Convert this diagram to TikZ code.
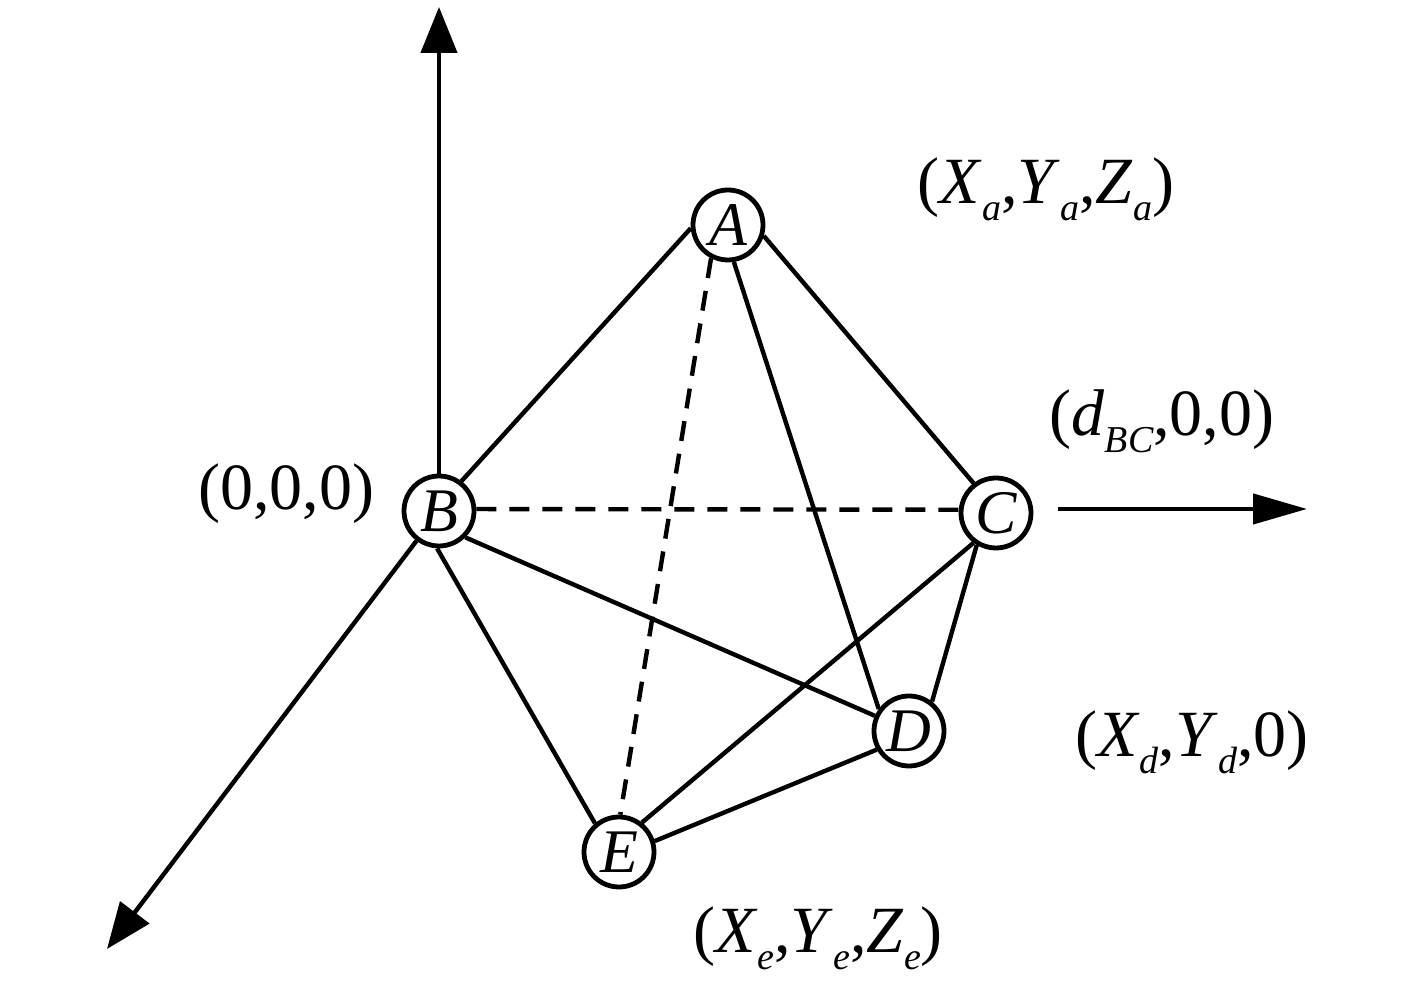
\documentclass[tikz,border=0pt]{standalone}
\usepackage{fontspec}
\setmainfont{Liberation Serif}
\usepackage{tikz}
\usetikzlibrary{arrows.meta}
\newcommand{\lowidx}[1]{\raisebox{-0.26em}{\fontsize{38}{38}\selectfont\itshape #1}}

\begin{document}
\begin{tikzpicture}[x=1pt,y=1pt]
  \tikzset{vertex/.style = {shape=circle,draw,line width=4.8pt,minimum size=70pt,inner sep=0pt,font=\fontsize{62}{62}\selectfont\itshape}}
  \tikzset{edge/.style = {line width=4.4pt}}
  \tikzset{hidden/.style = {line width=4.4pt,dash pattern=on 20pt off 13pt}}
  \tikzset{axis/.style = {line width=4.4pt,-{Triangle[length=46pt,width=36pt]}}}
  \tikzset{coord/.style = {inner sep=0pt,font=\fontsize{66}{66}\selectfont}}
  \useasboundingbox (0,0) rectangle (1417,987);
	\node[vertex](A) at (728,762) {A};
	\node[vertex](B) at (439,476) {B};
	\node[vertex](C) at (996,474) {C};
	\node[vertex](D) at (909,256) {D};
	\node[vertex](E) at (619,135) {E};

	\coordinate (ztip) at (439,980);
	\coordinate (ytip) at (107,38);
	\coordinate (xstart) at (1058,478);
	\coordinate (xtip) at (1307,478);

	\node[coord](Acoord) at (1046,798) {(\textit{X}\lowidx{a},\textit{Y}\lowidx{a},\textit{Z}\lowidx{a})};
	\node[coord](Bcoord) at (286,493) {(0,0,0)};
	\node[coord](Ccoord) at (1162,566) {(\textit{d}\lowidx{BC},0,0)};
	\node[coord](Dcoord) at (1192,245) {(\textit{X}\lowidx{d},\textit{Y}\lowidx{d},0)};
	\node[coord](Ecoord) at (818,49) {(\textit{X}\lowidx{e},\textit{Y}\lowidx{e},\textit{Z}\lowidx{e})};

    \foreach \from/\to in {A.185/B.53,A.343/C.127,A.279/D.144,B.-45/D.156,B.267/E.130,C.239/D.52,C.233/E.52,D.210/E.17}
    \path[edge](\from) edge (\to);
    \foreach \from/\to in {A.243/E.88,B.3/C.175}
    \path[hidden](\from) edge (\to);

	\draw[axis](B.90) -- (ztip);
	\draw[axis](B.233) -- (ytip);
	\draw[axis,-{Triangle[length=54pt,width=30pt]}](xstart) -- (xtip);
\end{tikzpicture}
\end{document}
